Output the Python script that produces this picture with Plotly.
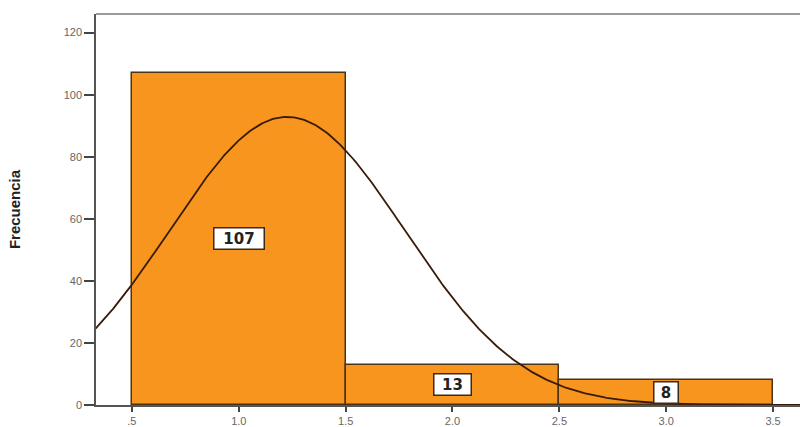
import numpy as np
import plotly.graph_objects as go

# Histogram bins (centres) and their counts
bin_centers = [1.0, 2.0, 3.0]
counts = [107, 13, 8]
bin_width = 1.0

x_ticks = [0.5, 1.0, 1.5, 2.0, 2.5, 3.0, 3.5]
x_tick_labels = [".5", "1.0", "1.5", "2.0", "2.5", "3.0", "3.5"]
y_ticks = [0, 20, 40, 60, 80, 100, 120]

# Fitted normal curve scaled to counts
c = np.array(bin_centers)
n = np.array(counts)
N = n.sum()
mean = (c * n).sum() / N
sd = np.sqrt(((c - mean) ** 2 * n).sum() / (N - 1))
xs = np.linspace(0.33, 3.63, 400)
ys = N * bin_width / (sd * np.sqrt(2 * np.pi)) * np.exp(-0.5 * ((xs - mean) / sd) ** 2)

orange = "#F7951F"
edge = "#4a3418"

fig = go.Figure()
fig.add_trace(go.Bar(
    x=bin_centers, y=counts, width=bin_width,
    marker=dict(color=orange, line=dict(color=edge, width=1.5)),
    showlegend=False, hoverinfo="y",
))
fig.add_trace(go.Scatter(
    x=xs, y=ys, mode="lines",
    line=dict(color="#3a1a08", width=1.8),
    showlegend=False, hoverinfo="skip",
))

# Count labels in boxes at mid-height of each bar
for xc, v in zip(bin_centers, counts):
    label = str(v)
    fig.add_annotation(
        x=xc, y=v / 2, text=f"<b>{label}</b>", showarrow=False,
        font=dict(family="DejaVu Sans", size=15, color="#222"),
        width=13 * len(label) + 8, height=18,
        bgcolor="white", bordercolor="#3a2a1a", borderwidth=1.5, borderpad=1,
    )

# Top frame line
fig.add_shape(type="line", xref="paper", yref="paper", x0=0, x1=1, y0=1, y1=1,
              line=dict(color="#9a9a9a", width=2))

tick_font = dict(family="Liberation Sans, Arial", size=11, color="#666")

fig.update_layout(
    width=800, height=427,
    margin=dict(l=96, r=0, t=14, b=19),
    paper_bgcolor="white", plot_bgcolor="white",
    bargap=0,
    xaxis=dict(
        range=[0.332, 3.626], tickvals=x_ticks, ticktext=x_tick_labels,
        ticks="outside", ticklen=5, tickcolor="#444", tickwidth=1.5,
        showline=True, linecolor="#555", linewidth=1.5,
        showgrid=False, zeroline=False, tickfont=tick_font,
    ),
    yaxis=dict(
        range=[0, 126], tickvals=y_ticks,
        ticks="outside", ticklen=10, tickcolor="#444", tickwidth=1.5,
        showline=True, linecolor="#555", linewidth=1.5,
        showgrid=False, zeroline=False, tickfont=tick_font,
        title=dict(text="<b>Frecuencia</b>", standoff=39,
                   font=dict(family="Liberation Sans Narrow, Liberation Sans, Arial", size=15, color="#222")),
    ),
)

fig.write_html("out.html")
